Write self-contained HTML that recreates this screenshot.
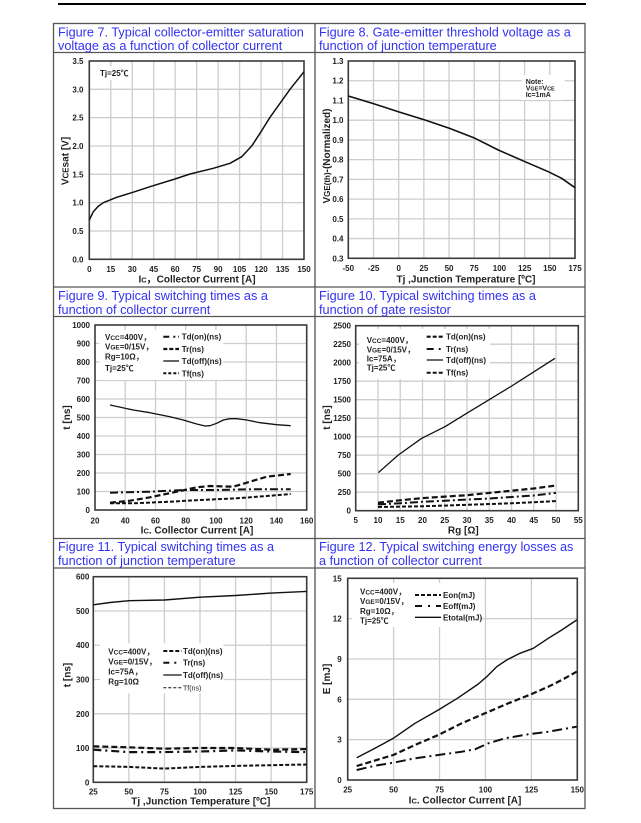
<!DOCTYPE html>
<html><head><meta charset="utf-8">
<style>
html,body{margin:0;padding:0;background:#fff;}
svg{display:block;}
.g{stroke:#cdcdcd;stroke-width:1.3;fill:none}
.fr{fill:none;stroke:#3a3a3a;stroke-width:1.6}
.tb{fill:none;stroke:#555;stroke-width:1.3}
.t{font-family:"Liberation Sans","DejaVu Sans",sans-serif;font-weight:bold;font-size:8px;fill:#222}
.tr{text-anchor:end}
.tm{text-anchor:middle}
.ax{font-family:"Liberation Sans","DejaVu Sans",sans-serif;font-weight:bold;font-size:10px;fill:#222;text-anchor:middle}
.ttl{font-family:"Liberation Sans",sans-serif;font-size:12.7px;fill:#3232f2}
.lg{font-family:"Liberation Sans","Noto Sans CJK SC",sans-serif;font-weight:bold;font-size:8px;fill:#222}
.c{fill:none;stroke:#111;stroke-linejoin:round;stroke-linecap:butt}
</style></head><body>
<svg width="641" height="823" viewBox="0 0 641 823" xmlns="http://www.w3.org/2000/svg">
<rect width="641" height="823" fill="#fff"/>
<line x1="58" y1="4" x2="586" y2="4" stroke="#000" stroke-width="2"/>

<!-- table -->
<rect class="tb" x="53.5" y="23.5" width="531.5" height="785"/>
<path class="tb" d="M315 23.5V808.5 M53.5 52.5H585 M53.5 287H585 M53.5 316.5H585 M53.5 538.5H585 M53.5 568H585"/>

<!-- titles -->
<text class="ttl" x="58" y="36.5">Figure 7. Typical collector-emitter saturation</text>
<text class="ttl" x="58" y="50">voltage as a function of collector current</text>
<text class="ttl" x="319" y="36.5">Figure 8. Gate-emitter threshold voltage as a</text>
<text class="ttl" x="319" y="50">function of junction temperature</text>
<text class="ttl" x="58" y="300">Figure 9. Typical switching times as a</text>
<text class="ttl" x="58" y="314">function of collector current</text>
<text class="ttl" x="319" y="300">Figure 10. Typical switching times as a</text>
<text class="ttl" x="319" y="314">function of gate resistor</text>
<text class="ttl" x="58" y="551">Figure 11. Typical switching times as a</text>
<text class="ttl" x="58" y="565">function of junction temperature</text>
<text class="ttl" x="319" y="551">Figure 12. Typical switching energy losses as</text>
<text class="ttl" x="319" y="565">a function of collector current</text>

<!-- ================= FIG 7 ================= -->
<path class="g" d="M110.77 61V259.3M132.24 61V259.3M153.71 61V259.3M175.18 61V259.3M196.65 61V259.3M218.12 61V259.3M239.59 61V259.3M261.06 61V259.3M282.53 61V259.3
M89.3 230.97H304M89.3 202.64H304M89.3 174.31H304M89.3 145.98H304M89.3 117.65H304M89.3 89.32H304"/>
<rect x="97" y="66" width="34" height="14" fill="#fff"/>
<rect class="fr" x="89.3" y="61" width="214.7" height="198.3"/>
<polyline class="c" stroke-width="1.5" points="89.3,220 93.3,211.7 98,206.5 103.3,202.7 116.7,197.3 131.7,192.7 150,186.7 175,179 190,174 213.3,168.3 230,163.3 241.7,156.7 251.7,146 260,133.3 270,117.3 280,103.3 290,89.3 304,71.7"/>
<text class="lg" x="100" y="76">Tj=25℃</text>
<g class="t tm">
<text x="89.3" y="272">0</text><text x="110.77" y="272">15</text><text x="132.24" y="272">30</text><text x="153.71" y="272">45</text><text x="175.18" y="272">60</text><text x="196.65" y="272">75</text><text x="218.12" y="272">90</text><text x="239.59" y="272">105</text><text x="261.06" y="272">120</text><text x="282.53" y="272">135</text><text x="304" y="272">150</text>
</g>
<g class="t tr">
<text x="83.5" y="262.3">0.0</text><text x="83.5" y="234">0.5</text><text x="83.5" y="205.6">1.0</text><text x="83.5" y="177.3">1.5</text><text x="83.5" y="149">2.0</text><text x="83.5" y="120.6">2.5</text><text x="83.5" y="92.3">3.0</text><text x="83.5" y="64">3.5</text>
</g>
<text class="ax" x="197" y="282.5">I<tspan font-size="7.5">C</tspan>，Collector Current  [A]</text>
<text class="ax" transform="translate(68.5,161) rotate(-90)">V<tspan font-size="8">CE</tspan>sat [V]</text>

<!-- ================= FIG 8 ================= -->
<path class="g" d="M373.49 61V258.3M398.68 61V258.3M423.87 61V258.3M449.06 61V258.3M474.24 61V258.3M499.43 61V258.3M524.62 61V258.3M549.81 61V258.3
M348.3 238.57H575M348.3 218.84H575M348.3 199.11H575M348.3 179.38H575M348.3 159.65H575M348.3 139.92H575M348.3 120.19H575M348.3 100.46H575M348.3 80.73H575"/>
<rect x="521.7" y="75" width="43" height="25" fill="#fff"/>
<rect class="fr" x="348.3" y="61" width="226.7" height="197.3"/>
<polyline class="c" stroke-width="1.6" points="348.3,96 373,103.5 398.3,111.7 425,120 450,128.5 475,138.3 498.3,150 525,161.7 548.3,171.7 561.7,178.3 575,187.7"/>
<g class="lg">
<text x="525.7" y="84" font-size="7">Note:</text>
<text x="525.7" y="90.5" font-size="7">V<tspan font-size="5.5">GE</tspan>=V<tspan font-size="5.5">CE</tspan></text>
<text x="525.7" y="97" font-size="7">Ic=1mA</text>
</g>
<g class="t tm">
<text x="348.3" y="271">-50</text><text x="373.49" y="271">-25</text><text x="398.68" y="271">0</text><text x="423.87" y="271">25</text><text x="449.06" y="271">50</text><text x="474.24" y="271">75</text><text x="499.43" y="271">100</text><text x="524.62" y="271">125</text><text x="549.81" y="271">150</text><text x="575" y="271">175</text>
</g>
<g class="t tr">
<text x="343.5" y="261.3">0.3</text><text x="343.5" y="241.6">0.4</text><text x="343.5" y="221.8">0.5</text><text x="343.5" y="202.1">0.6</text><text x="343.5" y="182.4">0.7</text><text x="343.5" y="162.6">0.8</text><text x="343.5" y="142.9">0.9</text><text x="343.5" y="123.2">1.0</text><text x="343.5" y="103.5">1.1</text><text x="343.5" y="83.7">1.2</text><text x="343.5" y="64">1.3</text>
</g>
<text class="ax" x="466" y="282.5">Tj ,Junction Temperature [ºC]</text>
<text class="ax" transform="translate(330,156) rotate(-90)">V<tspan font-size="8">GE(th)</tspan>-(Normalized)</text>

<!-- ================= FIG 9 ================= -->
<path class="g" d="M125.24 325V510M155.49 325V510M185.73 325V510M215.97 325V510M246.21 325V510M276.46 325V510
M95 491.5H306.7M95 473H306.7M95 454.5H306.7M95 436H306.7M95 417.5H306.7M95 399H306.7M95 380.5H306.7M95 362H306.7M95 343.5H306.7"/>
<rect x="99.3" y="330" width="124" height="50" fill="#fff"/>
<rect class="fr" x="95" y="325" width="211.7" height="185"/>
<polyline class="c" stroke-width="1.3" points="110,405 133.3,410 150,412.7 170,416.7 183.3,420 196.7,424 205,426 210,425.7 216.7,423.3 223.3,420 230,418.7 236.7,418.7 246.7,420 260,422.7 276.7,424.7 290.7,425.7"/>
<polyline class="c" stroke-width="2" stroke-dasharray="8,3,2,3" points="110,492.7 150,491.7 183.3,490 216.7,490 250,489.3 290.7,489.3"/>
<polyline class="c" stroke-width="2.2" stroke-dasharray="6,3" points="110,502.7 130,500.7 150,497.3 176.7,491.7 196.7,487.3 210,486 233.3,486.7 250,481.7 266.7,476.7 290.7,474"/>
<polyline class="c" stroke="#888" stroke-width="2" stroke-dasharray="4,2" points="110,503.3 133.3,503.3 170,501.7 200,500 236.7,498.3 266.7,496 290.7,494"/>
<g class="lg">
<text x="105" y="340">V<tspan font-size="6.5">CC</tspan>=400V，</text>
<text x="105" y="349.5">V<tspan font-size="6.5">GE</tspan>=0/15V，</text>
<text x="105" y="359.5">Rg=10Ω，</text>
<text x="105" y="371">Tj=25℃</text>
<text x="181.7" y="339.5">Td(on)(ns)</text>
<text x="181.7" y="352">Tr(ns)</text>
<text x="181.7" y="364">Td(off)(ns)</text>
<text x="181.7" y="376.3">Tf(ns)</text>
</g>
<line class="c" x1="163.3" y1="336.7" x2="179" y2="336.7" stroke-width="2" stroke-dasharray="6,4,2,3"/>
<line class="c" x1="163.3" y1="349" x2="179" y2="349" stroke-width="2.2" stroke-dasharray="4,2"/>
<line class="c" x1="163.3" y1="361" x2="179" y2="361" stroke-width="1.3"/>
<line class="c" x1="163.3" y1="373.3" x2="179" y2="373.3" stroke="#888" stroke-width="2" stroke-dasharray="3,2"/>
<g class="t tm">
<text x="95" y="523.5">20</text><text x="125.24" y="523.5">40</text><text x="155.49" y="523.5">60</text><text x="185.73" y="523.5">80</text><text x="215.97" y="523.5">100</text><text x="246.21" y="523.5">120</text><text x="276.46" y="523.5">140</text><text x="306.7" y="523.5">160</text>
</g>
<g class="t tr">
<text x="90" y="513">0</text><text x="90" y="494.5">100</text><text x="90" y="476">200</text><text x="90" y="457.5">300</text><text x="90" y="439">400</text><text x="90" y="420.5">500</text><text x="90" y="402">600</text><text x="90" y="383.5">700</text><text x="90" y="365">800</text><text x="90" y="346.5">900</text><text x="90" y="328">1000</text>
</g>
<text class="ax" x="197" y="533.3">I<tspan font-size="7.5">C</tspan>.  Collector Current [A]</text>
<text class="ax" transform="translate(70,417.5) rotate(-90)">t  [ns]</text>

<!-- ================= FIG 10 ================= -->
<path class="g" d="M377.96 325.7V510.7M400.22 325.7V510.7M422.48 325.7V510.7M444.74 325.7V510.7M467 325.7V510.7M489.26 325.7V510.7M511.52 325.7V510.7M533.78 325.7V510.7M556.04 325.7V510.7
M355.7 492.2H578.3M355.7 473.7H578.3M355.7 455.2H578.3M355.7 436.7H578.3M355.7 418.2H578.3M355.7 399.7H578.3M355.7 381.2H578.3M355.7 362.7H578.3M355.7 344.2H578.3"/>
<rect x="359" y="329" width="131" height="50" fill="#fff"/>
<rect class="fr" x="355.7" y="325.7" width="222.6" height="185"/>
<polyline class="c" stroke-width="1.3" points="378.3,472.7 398.3,455 421.7,438.3 441.7,428.3 445,426.7 466.7,413.3 511.7,386 555,358.3"/>
<polyline class="c" stroke-width="2.2" stroke-dasharray="6,3" points="378,502.7 400.2,500.3 422.5,498.1 444.7,496.6 467,495.2 489.3,492.9 511.5,490.7 533.8,488.5 556,485.5"/>
<polyline class="c" stroke-width="2" stroke-dasharray="8,3,2,3" points="378,504.4 400.2,503.3 422.5,501.8 444.7,500.7 467,499.6 489.3,498.5 511.5,497 533.8,495.5 556,492.9"/>
<polyline class="c" stroke="#888" stroke-width="2" stroke-dasharray="4,2" points="378,507 422.5,506.3 467,504.8 511.5,503.3 556,501.1"/>
<g class="lg">
<text x="366.7" y="343">V<tspan font-size="6.5">CC</tspan>=400V，</text>
<text x="366.7" y="352.5">V<tspan font-size="6.5">GE</tspan>=0/15V，</text>
<text x="366.7" y="361.5">Ic=75A，</text>
<text x="366.7" y="370.5">Tj=25℃</text>
<text x="446" y="339.5">Td(on)(ns)</text>
<text x="446" y="352">Tr(ns)</text>
<text x="446" y="363">Td(off)(ns)</text>
<text x="446" y="375.5">Tf(ns)</text>
</g>
<line class="c" x1="426.7" y1="336.7" x2="443" y2="336.7" stroke-width="2.2" stroke-dasharray="4,2"/>
<line class="c" x1="426.7" y1="349" x2="443" y2="349" stroke-width="2" stroke-dasharray="7,5,2,6"/>
<line class="c" x1="426.7" y1="360" x2="443" y2="360" stroke-width="1.3"/>
<line class="c" x1="426.7" y1="372.7" x2="443" y2="372.7" stroke="#888" stroke-width="2" stroke-dasharray="4,2"/>
<g class="t tm">
<text x="355.7" y="523">5</text><text x="377.96" y="523">10</text><text x="400.22" y="523">15</text><text x="422.48" y="523">20</text><text x="444.74" y="523">25</text><text x="467" y="523">30</text><text x="489.26" y="523">35</text><text x="511.52" y="523">40</text><text x="533.78" y="523">45</text><text x="556.04" y="523">50</text><text x="578.3" y="523">55</text>
</g>
<g class="t tr">
<text x="351" y="513.7">0</text><text x="351" y="495.2">250</text><text x="351" y="476.7">500</text><text x="351" y="458.2">750</text><text x="351" y="439.7">1000</text><text x="351" y="421.2">1250</text><text x="351" y="402.7">1500</text><text x="351" y="384.2">1750</text><text x="351" y="365.7">2000</text><text x="351" y="347.2">2250</text><text x="351" y="328.7">2500</text>
</g>
<text class="ax" x="463.3" y="533.3">Rg [Ω]</text>
<text class="ax" transform="translate(330,417.5) rotate(-90)">t  [ns]</text>

<!-- ================= FIG 11 ================= -->
<path class="g" d="M128.87 576.7V782.3M164.43 576.7V782.3M200 576.7V782.3M235.57 576.7V782.3M271.13 576.7V782.3
M93.3 748.03H306.7M93.3 713.77H306.7M93.3 679.5H306.7M93.3 645.23H306.7M93.3 610.97H306.7"/>
<rect x="100" y="643.3" width="123.3" height="50" fill="#fff"/>
<rect class="fr" x="93.3" y="576.7" width="213.4" height="205.6"/>
<polyline class="c" stroke-width="1.4" points="93.3,604.8 110,602.5 128.87,600.7 164.43,600 200,597.2 235.57,595.5 271.13,593.1 306.7,591.4"/>
<polyline class="c" stroke-width="2.2" stroke-dasharray="6,3" points="93.3,746.3 128.87,747.3 164.43,748.7 200,748 235.57,748 271.13,749.7 306.7,749.1"/>
<polyline class="c" stroke-width="2.2" stroke-dasharray="8,4,2,4" points="93.3,749.7 128.87,752.1 164.43,752.1 200,751.5 235.57,750.4 271.13,751.5 306.7,752.1"/>
<polyline class="c" stroke="#888" stroke-width="2" stroke-dasharray="4,2" points="93.3,766.2 128.87,766.9 164.43,768.6 200,766.9 235.57,765.9 271.13,765.2 306.7,764.5"/>
<g class="lg">
<text x="108.3" y="654.5">V<tspan font-size="6.5">CC</tspan>=400V，</text>
<text x="108.3" y="664.5">V<tspan font-size="6.5">GE</tspan>=0/15V，</text>
<text x="108.3" y="674.5">Ic=75A，</text>
<text x="108.3" y="684.5">Rg=10Ω</text>
<text x="183" y="654">Td(on)(ns)</text>
<text x="183" y="665.7">Tr(ns)</text>
<text x="183" y="678">Td(off)(ns)</text>
<text x="183" y="690.7" font-size="7" font-weight="normal">Tf(ns)</text>
</g>
<line class="c" x1="163.3" y1="651" x2="181.7" y2="651" stroke-width="2" stroke-dasharray="4,2"/>
<line class="c" x1="163.3" y1="662.7" x2="181.7" y2="662.7" stroke-width="2" stroke-dasharray="6,5,2,6"/>
<line class="c" x1="163.3" y1="675" x2="181.7" y2="675" stroke-width="1.3"/>
<line class="c" x1="163.3" y1="687.7" x2="181.7" y2="687.7" stroke="#777" stroke-width="1" stroke-dasharray="3,2"/>
<g class="t tm">
<text x="93.3" y="794.5">25</text><text x="128.87" y="794.5">50</text><text x="164.43" y="794.5">75</text><text x="200" y="794.5">100</text><text x="235.57" y="794.5">125</text><text x="271.13" y="794.5">150</text><text x="306.7" y="794.5">175</text>
</g>
<g class="t tr">
<text x="89.3" y="785.3">0</text><text x="89.3" y="751">100</text><text x="89.3" y="716.8">200</text><text x="89.3" y="682.5">300</text><text x="89.3" y="648.2">400</text><text x="89.3" y="614">500</text><text x="89.3" y="579.7">600</text>
</g>
<text class="ax" x="200.8" y="804.3">Tj ,Junction Temperature [ºC]</text>
<text class="ax" transform="translate(70.5,675) rotate(-90)">t [ns]</text>

<!-- ================= FIG 12 ================= -->
<path class="g" d="M393.62 578.3V780M439.54 578.3V780M485.46 578.3V780M531.38 578.3V780
M347.7 739.66H577.3M347.7 699.32H577.3M347.7 658.98H577.3M347.7 618.64H577.3"/>
<rect x="352" y="583" width="128" height="44" fill="#fff"/>
<rect class="fr" x="347.7" y="578.3" width="229.6" height="201.7"/>
<polyline class="c" stroke-width="1.4" points="356.7,757.7 375,748.3 393.3,738.3 415,723.3 438.3,710 458.3,697.7 478.3,684 486.7,676.7 496.7,666.7 506.7,660 520,653.3 533.3,648.3 548.3,638.3 561.7,630 576.7,620"/>
<polyline class="c" stroke-width="2.2" stroke-dasharray="6,3" points="356.7,766 393.3,755 415,745 438.3,735 461.7,723.3 485,713.3 508.3,703.3 531.7,694 548.3,686.7 561.7,680 576.7,671.7"/>
<polyline class="c" stroke-width="2" stroke-dasharray="10,4,2,4" points="356.7,770 375,765.7 393.3,762.7 415,758.3 438.3,755 461.7,751.7 475,749.3 488.3,743.3 505,738.3 528.3,734.3 548.3,731.7 576.7,726.7"/>
<g class="lg">
<text x="360" y="594.5">V<tspan font-size="6.5">CC</tspan>=400V，</text>
<text x="360" y="604">V<tspan font-size="6.5">GE</tspan>=0/15V，</text>
<text x="360" y="614">Rg=10Ω，</text>
<text x="360" y="623.5">Tj=25℃</text>
<text x="443" y="598">Eon(mJ)</text>
<text x="443" y="609">Eoff(mJ)</text>
<text x="443" y="620.3">Etotal(mJ)</text>
</g>
<line class="c" x1="415" y1="595" x2="441" y2="595" stroke-width="2" stroke-dasharray="4,2"/>
<line class="c" x1="415" y1="606" x2="441" y2="606" stroke-width="2" stroke-dasharray="7,6,2,6"/>
<line class="c" x1="415" y1="617.3" x2="441" y2="617.3" stroke-width="1.3"/>
<g class="t tm">
<text x="347.7" y="792.5">25</text><text x="393.62" y="792.5">50</text><text x="439.54" y="792.5">75</text><text x="485.46" y="792.5">100</text><text x="531.38" y="792.5">125</text><text x="577.3" y="792.5">150</text>
</g>
<g class="t tr">
<text x="341.7" y="783">0</text><text x="341.7" y="742.7">3</text><text x="341.7" y="702.3">6</text><text x="341.7" y="662">9</text><text x="341.7" y="621.6">12</text><text x="341.7" y="581.3">15</text>
</g>
<text class="ax" x="465" y="803.3">I<tspan font-size="7.5">C</tspan>.  Collector Current [A]</text>
<text class="ax" transform="translate(330,679) rotate(-90)">E [mJ]</text>
</svg>
</body></html>
